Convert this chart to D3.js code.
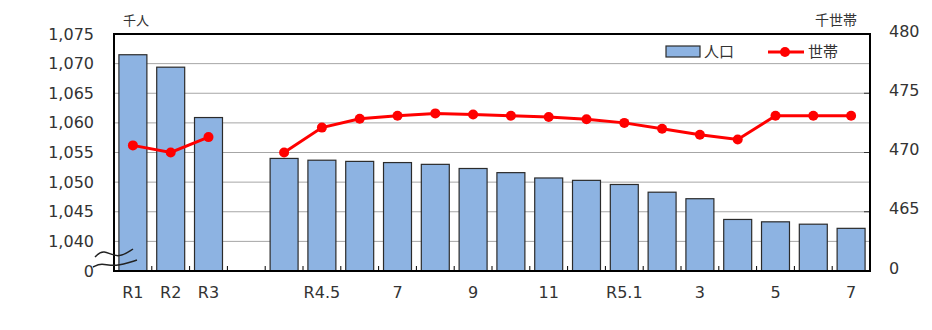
<!DOCTYPE html>
<html>
<head>
<meta charset="utf-8">
<script src="https://cdn.jsdelivr.net/npm/d3@7/dist/d3.min.js"></script>
<style>
  body { margin: 0; background: #fff; }
  text { font-family: "DejaVu Sans", Verdana, sans-serif; fill: #333; }
  .jp { font-family: "Noto Sans CJK JP", sans-serif; }
</style>
</head>
<body>
<div id="chart"></div>
<script>
// categories (blank slot separates annual and monthly figures)
var categories = ["R1", "R2", "R3", "", "R4.4", "R4.5", "6", "7", "8", "9", "10", "11", "12",
                  "R5.1", "2", "3", "4", "5", "6", "7"];
// labels actually shown under the axis
var shownLabels = ["R1", "R2", "R3", "", "", "R4.5", "", "7", "", "9", "", "11", "",
                   "R5.1", "", "3", "", "5", "", "7"];
// population, thousand persons
var population = [1071.5, 1069.4, 1060.9, null, 1054.0, 1053.7, 1053.5, 1053.3, 1053.0, 1052.3,
                  1051.6, 1050.7, 1050.3, 1049.6, 1048.3, 1047.2, 1043.7, 1043.3, 1042.9, 1042.2];
// households, thousand
var households = [470.6, 470.0, 471.3, null, 470.0, 472.1, 472.85, 473.1, 473.3, 473.2,
                  473.1, 473.0, 472.8, 472.5, 472.0, 471.5, 471.1, 473.1, 473.1, 473.1];

var leftTicks = [1035, 1040, 1045, 1050, 1055, 1060, 1065, 1070, 1075];
var rightTicks = [460, 465, 470, 475, 480];

var svgWidth = 932, svgHeight = 330;
var margin = { top: 34, right: 62, bottom: 59, left: 114 };
var width = svgWidth - margin.left - margin.right;
var height = svgHeight - margin.top - margin.bottom;

var svg = d3.select("#chart").append("svg")
  .attr("width", svgWidth)
  .attr("height", svgHeight);

var g = svg.append("g")
  .attr("transform", `translate(${margin.left}, ${margin.top})`);

var x = d3.scaleBand()
  .domain(d3.range(categories.length))
  .range([0, width])
  .paddingInner(0.26)
  .paddingOuter(0.13);

var yLeft = d3.scaleLinear().domain([1035, 1075]).range([height, 0]);
var yRight = d3.scaleLinear().domain([460, 480]).range([height, 0]);

// gridlines
g.append("g")
  .selectAll("line")
  .data(leftTicks.slice(1, -1))
  .enter().append("line")
  .attr("x1", 0).attr("x2", width)
  .attr("y1", d => yLeft(d)).attr("y2", d => yLeft(d))
  .attr("stroke", "#a6a6a6").attr("stroke-width", 1);

// bars
g.selectAll("rect.bar")
  .data(population.map((v, i) => ({ v: v, i: i })).filter(d => d.v !== null))
  .enter().append("rect")
  .attr("class", "bar")
  .attr("x", d => x(d.i))
  .attr("width", x.bandwidth())
  .attr("y", d => yLeft(d.v))
  .attr("height", d => height - yLeft(d.v))
  .attr("fill", "#8db3e2")
  .attr("stroke", "#2b2b2b")
  .attr("stroke-width", 1.2);

// category boundary ticks on bottom axis
var step = x.step();
g.append("g")
  .selectAll("line")
  .data(d3.range(1, categories.length))
  .enter().append("line")
  .attr("x1", d => d * step).attr("x2", d => d * step)
  .attr("y1", height).attr("y2", height - 5)
  .attr("stroke", "#000").attr("stroke-width", 1);

// right axis inner ticks
g.append("g")
  .selectAll("line")
  .data(rightTicks.slice(1, -1))
  .enter().append("line")
  .attr("x1", width - 6).attr("x2", width)
  .attr("y1", d => yRight(d)).attr("y2", d => yRight(d))
  .attr("stroke", "#333").attr("stroke-width", 1);

// plot frame
g.append("rect")
  .attr("x", 0).attr("y", 0)
  .attr("width", width).attr("height", height)
  .attr("fill", "none")
  .attr("stroke", "#000")
  .attr("stroke-width", 2);

// household line (broken at the gap)
var line = d3.line()
  .defined(d => d !== null)
  .x((d, i) => x(i) + x.bandwidth() / 2)
  .y(d => yRight(d));

g.append("path")
  .datum(households)
  .attr("d", line)
  .attr("fill", "none")
  .attr("stroke", "#ff0000")
  .attr("stroke-width", 3);

g.selectAll("circle.pt")
  .data(households.map((v, i) => ({ v: v, i: i })).filter(d => d.v !== null))
  .enter().append("circle")
  .attr("class", "pt")
  .attr("cx", d => x(d.i) + x.bandwidth() / 2)
  .attr("cy", d => yRight(d.v))
  .attr("r", 5)
  .attr("fill", "#ff0000");

// left axis labels
var fmt = d3.format(",");
g.append("g")
  .selectAll("text")
  .data(leftTicks)
  .enter().append("text")
  .attr("x", -20)
  .attr("y", d => yLeft(d))
  .attr("dy", "0.35em")
  .attr("text-anchor", "end")
  .style("font-size", "16px")
  .text(d => d === 1035 ? "0" : fmt(d));

// right axis labels
g.append("g")
  .selectAll("text")
  .data(rightTicks)
  .enter().append("text")
  .attr("x", width + 19)
  .attr("y", d => yRight(d) - 3)
  .attr("dy", "0.35em")
  .attr("text-anchor", "start")
  .style("font-size", "16px")
  .text(d => d === 460 ? "0" : d);

// x labels
g.append("g")
  .selectAll("text")
  .data(shownLabels.map((s, i) => ({ s: s, i: i })).filter(d => d.s !== ""))
  .enter().append("text")
  .attr("x", d => x(d.i) + x.bandwidth() / 2)
  .attr("y", height + 27)
  .attr("text-anchor", "middle")
  .style("font-size", "16px")
  .text(d => d.s);

// axis break marks
var wave = d3.line().curve(d3.curveBasis);
[[[-19, -14], [-11, -22], [4, -12], [19, -22]],
 [[-21, -4], [-13, -8], [1, -4], [23, -11]]].forEach(function(pts) {
  g.append("path")
    .attr("d", wave(pts.map(p => [p[0], height + p[1]])))
    .attr("fill", "none")
    .attr("stroke", "#222")
    .attr("stroke-width", 1.5);
});

// unit labels
svg.append("text").attr("class", "jp")
  .attr("x", 136).attr("y", 25)
  .attr("text-anchor", "middle")
  .style("font-size", "13px")
  .text("千人");
svg.append("text").attr("class", "jp")
  .attr("x", 836).attr("y", 25)
  .attr("text-anchor", "middle")
  .style("font-size", "14px")
  .text("千世帯");

// legend
var legend = svg.append("g");
legend.append("rect")
  .attr("x", 666).attr("y", 46)
  .attr("width", 34).attr("height", 11)
  .attr("fill", "#8db3e2")
  .attr("stroke", "#2b2b2b")
  .attr("stroke-width", 1.2);
legend.append("text").attr("class", "jp")
  .attr("x", 704).attr("y", 57)
  .style("font-size", "15px")
  .text("人口");
legend.append("line")
  .attr("x1", 768).attr("x2", 804)
  .attr("y1", 52).attr("y2", 52)
  .attr("stroke", "#ff0000").attr("stroke-width", 3);
legend.append("circle")
  .attr("cx", 785).attr("cy", 52).attr("r", 5)
  .attr("fill", "#ff0000");
legend.append("text").attr("class", "jp")
  .attr("x", 808).attr("y", 57)
  .style("font-size", "15px")
  .text("世帯");
</script>
</body>
</html>
